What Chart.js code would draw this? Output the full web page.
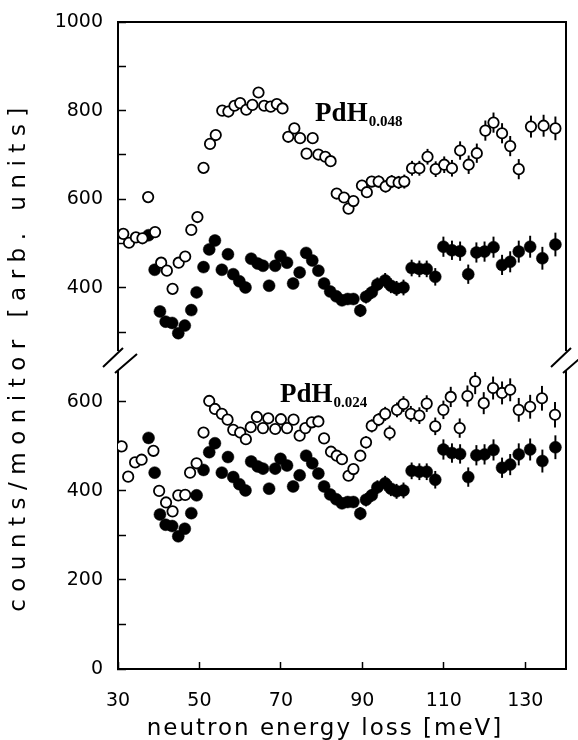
<!DOCTYPE html>
<html>
<head>
<meta charset="utf-8">
<script src="https://cdn.jsdelivr.net/npm/chart.js@4.4.1/dist/chart.umd.min.js"></script>
<style>
    html, body { margin: 0; padding: 0; background: #fff; }
    #wrap { width: 578px; height: 740px; }
</style>
</head>
<body>
<div id="wrap"><canvas id="spectrumChart" width="578" height="740"></canvas></div>
<script>
// values: neutron energy loss (meV) vs counts/monitor

// PdH0.048, open circles, upper panel
const energyH048 = [31.3, 32.7, 34.4, 36.0, 37.4, 39.1, 40.6, 42.0, 43.4, 44.9, 46.5, 48.0, 49.5, 51.0, 52.6, 54.0, 55.6, 57.1, 58.6, 60.0, 61.5, 63.0, 64.5, 65.9, 67.5, 69.0, 70.4, 71.8, 73.3, 74.7, 76.3, 77.8, 79.2, 80.9, 82.2, 83.7, 85.5, 86.6, 87.8, 89.9, 91.1, 92.3, 94.0, 95.7, 97.2, 98.9, 100.3, 102.2, 104.0, 106.0, 108.0, 110.1, 112.0, 114.0, 116.1, 118.1, 120.2, 122.2, 124.3, 126.3, 128.4, 131.4, 134.5, 137.4];
const countsH048 = [522, 502, 514, 512, 605, 526, 457, 439, 398, 457, 471, 531, 560, 671, 725, 745, 800, 798, 811, 817, 802, 813, 841, 811, 809, 815, 805, 741, 760, 738, 703, 738, 701, 696, 686, 613, 604, 579, 596, 631, 616, 640, 640, 629, 640, 638, 640, 670, 670, 696, 668, 678, 670, 710, 678, 704, 755, 773, 749, 720, 668, 764, 766, 760];
const errorsH048 = [8, 8, 8, 8, 8, 8, 8, 8, 8, 8, 8, 8, 8, 8, 8, 8, 8, 8, 8, 8, 8, 8, 8, 8, 8, 8, 8, 8, 8, 8, 8, 8, 8, 8, 8, 8, 8, 8, 8, 12, 12, 12, 13, 13, 14, 14, 15, 16, 16, 17, 17, 18, 18, 20, 20, 21, 22, 22, 22, 22, 22, 24, 24, 26];

// PdH0.024, open circles, lower panel
const energyH024 = [30.9, 32.5, 34.2, 35.8, 38.7, 40.1, 41.8, 43.4, 44.8, 46.5, 47.7, 49.3, 51.0, 52.4, 53.8, 55.5, 56.9, 58.3, 60.0, 61.4, 62.6, 64.1, 65.6, 66.9, 68.6, 70.0, 71.5, 73.1, 74.6, 76.0, 77.6, 79.2, 80.6, 82.3, 83.7, 85.0, 86.6, 87.8, 89.5, 90.9, 92.3, 94.0, 95.6, 96.7, 98.5, 100.1, 101.9, 104.0, 105.8, 107.9, 109.9, 111.7, 113.9, 115.8, 117.7, 119.8, 122.1, 124.3, 126.3, 128.4, 131.2, 134.1, 137.3];
const countsH024 = [500, 432, 464, 470, 490, 400, 374, 354, 390, 391, 441, 462, 531, 602, 584, 573, 560, 537, 531, 516, 543, 566, 541, 563, 539, 561, 541, 560, 524, 541, 554, 556, 518, 488, 479, 471, 434, 449, 479, 509, 546, 560, 573, 530, 582, 595, 573, 569, 596, 545, 582, 611, 541, 613, 646, 597, 631, 620, 627, 582, 589, 608, 571];
const errorsH024 = [8, 8, 8, 8, 8, 8, 8, 8, 8, 8, 8, 8, 8, 8, 8, 8, 8, 8, 8, 8, 8, 8, 8, 8, 8, 8, 8, 8, 8, 8, 8, 8, 8, 8, 8, 8, 10, 10, 12, 13, 14, 14, 15, 16, 16, 17, 17, 18, 18, 19, 20, 22, 21, 23, 28, 24, 25, 25, 25, 26, 26, 27, 28];

// pure Pd reference, filled circles, shown in both panels
const energyPd = [37.5, 39.0, 40.3, 41.7, 43.3, 44.8, 46.4, 48.0, 49.3, 51.0, 52.4, 53.8, 55.5, 57.0, 58.3, 59.8, 61.3, 62.7, 64.3, 65.6, 67.1, 68.6, 69.9, 71.5, 73.0, 74.6, 76.2, 77.7, 79.2, 80.6, 82.1, 83.6, 85.0, 86.4, 87.8, 89.5, 90.9, 92.3, 93.7, 95.6, 97.0, 98.4, 100.1, 102.1, 104.0, 105.8, 107.9, 109.9, 112.0, 114.0, 116.0, 118.0, 120.0, 122.2, 124.3, 126.3, 128.4, 131.2, 134.2, 137.4];
const countsPd = [519, 441, 347, 324, 321, 298, 315, 350, 390, 447, 487, 507, 441, 476, 431, 415, 401, 466, 455, 450, 405, 450, 472, 457, 410, 435, 479, 462, 439, 410, 392, 381, 372, 375, 375, 349, 380, 390, 408, 417, 405, 399, 401, 445, 443, 443, 425, 493, 485, 483, 431, 480, 482, 492, 452, 459, 482, 493, 467, 498];
const errorsPd = [8, 8, 8, 8, 8, 8, 8, 8, 8, 8, 8, 8, 8, 8, 8, 8, 8, 8, 8, 8, 8, 8, 8, 8, 8, 8, 8, 8, 8, 8, 8, 8, 8, 8, 8, 14, 14, 14, 15, 16, 16, 16, 17, 18, 18, 18, 19, 22, 21, 21, 21, 22, 22, 23, 22, 23, 24, 24, 25, 26];

const xTicks = [30, 50, 70, 90, 110, 130];
const yTopTicks = [300, 400, 500, 600, 700, 800, 900, 1000];
const yBottomTicks = [0, 100, 200, 300, 400, 500, 600];
const panelTags = ["0.048", "0.024"];

const BLACK = "#000";
const TICK_FONT = { family: "DejaVu Sans", size: 19 };

// letter spacing / nudge for the two axis titles
const TITLE_STYLE = {
    x: { spacing: "2px", shift: -17 },
    yGap: { spacing: "7.5px", shift: -5 }
};

class SpacedTitleScale extends Chart.LinearScale {
    drawTitle() {
        const style = TITLE_STYLE[this.id];
        if (!style) return super.drawTitle();
        const ctx = this.ctx;
        ctx.save();
        if (this.isHorizontal()) ctx.translate(style.shift, 0);
        else ctx.translate(0, style.shift);
        if ("letterSpacing" in ctx) ctx.letterSpacing = style.spacing;
        super.drawTitle();
        ctx.restore();
    }
}
SpacedTitleScale.id = "spacedLinear";
SpacedTitleScale.defaults = {};
Chart.register(SpacedTitleScale);

const toPoints = (xs, ys) => xs.map((x, i) => ({ x: x, y: ys[i] }));
const toBars = (xs, ys, errs) => xs.map((x, i) => ({ x: x, y: [ys[i] - errs[i], ys[i] + errs[i]] }));

function setTicks(list) {
    return (scale) => { scale.ticks = list.map(value => ({ value })); };
}

// end labels of the y axes should not push the plot area around
function noEndPadding(scale) {
    scale.paddingTop = 0;
    scale.paddingBottom = 0;
}

function yAxis(stackWeight, min, max, tickList) {
    return {
        type: "linear",
        position: "left",
        stack: "panels",
        stackWeight: stackWeight,
        min: min,
        max: max,
        beginAtZero: false,
        afterBuildTicks: setTicks(tickList),
        afterFit: noEndPadding,
        grid: { drawOnChartArea: false, drawTicks: true, tickLength: -8, tickColor: BLACK, tickWidth: 1.5 },
        border: { display: true, color: BLACK, width: 2 },
        ticks: { color: BLACK, font: TICK_FONT, padding: 23, callback: v => (v % 200 === 0 ? v : "") }
    };
}

function rightAxis(stackWeight, min, max, showBorder) {
    return {
        type: "linear",
        position: "right",
        stack: "panelsR",
        stackWeight: stackWeight,
        min: min,
        max: max,
        grid: { drawOnChartArea: false, drawTicks: false },
        border: { display: showBorder, color: BLACK, width: 2 },
        ticks: { display: false }
    };
}

function openSet(label, xs, ys, axis) {
    return {
        label: label,
        xAxisID: "x",
        yAxisID: axis,
        data: toPoints(xs, ys),
        pointRadius: 5.2,
        pointBorderWidth: 1.8,
        pointBorderColor: BLACK,
        pointBackgroundColor: "#fff"
    };
}

function filledSet(label, xs, ys, axis) {
    return {
        label: label,
        xAxisID: "x",
        yAxisID: axis,
        data: toPoints(xs, ys),
        pointRadius: 6,
        pointBorderWidth: 0.5,
        pointBorderColor: BLACK,
        pointBackgroundColor: BLACK
    };
}

function errorSet(xs, ys, errs, axis) {
    return {
        type: "bar",
        xAxisID: "x",
        yAxisID: axis,
        data: toBars(xs, ys, errs),
        backgroundColor: BLACK,
        borderWidth: 0,
        barThickness: 1.3,
        grouped: false
    };
}

// break marks where the y axes are cut
const axisBreaks = {
    id: "axisBreaks",
    afterDraw(chart) {
        const { ctx, chartArea, scales } = chart;
        const yUp = scales.yTop.bottom;
        const yLow = scales.yBottom.top;
        ctx.save();
        ctx.strokeStyle = BLACK;
        ctx.lineWidth = 2;
        [chartArea.left, chartArea.right].forEach(x => {
            ctx.beginPath();
            ctx.moveTo(x - 15, yUp + 17);
            ctx.lineTo(x + 5, yUp - 2);
            ctx.moveTo(x - 3, yLow + 1);
            ctx.lineTo(x + 19, yLow - 18);
            ctx.stroke();
        });
        ctx.restore();
    }
};

function drawTag(ctx, x, y, sub) {
    ctx.fillStyle = BLACK;
    ctx.textAlign = "left";
    ctx.textBaseline = "alphabetic";
    ctx.font = "bold 27px 'Liberation Serif'";
    ctx.fillText("PdH", x, y);
    const w = ctx.measureText("PdH").width;
    ctx.font = "bold 15px 'Liberation Serif'";
    ctx.fillText(sub, x + w + 1, y + 5);
}

const panelLabels = {
    id: "panelLabels",
    afterDatasetsDraw(chart) {
        const { ctx, scales } = chart;
        ctx.save();
        drawTag(ctx, scales.x.getPixelForValue(78.4), scales.yTop.getPixelForValue(777), panelTags[0]);
        drawTag(ctx, scales.x.getPixelForValue(69.8), scales.yBottom.getPixelForValue(600), panelTags[1]);
        ctx.restore();
    }
};

Chart.defaults.font.family = "DejaVu Sans";
Chart.defaults.color = BLACK;

new Chart(document.getElementById("spectrumChart"), {
    type: "scatter",
    data: {
        datasets: [
            openSet("PdH0.048", energyH048, countsH048, "yTop"),
            openSet("PdH0.024", energyH024, countsH024, "yBottom"),
            filledSet("Pd (upper)", energyPd, countsPd, "yTop"),
            filledSet("Pd (lower)", energyPd, countsPd, "yBottom"),
            errorSet(energyH048, countsH048, errorsH048, "yTop"),
            errorSet(energyH024, countsH024, errorsH024, "yBottom"),
            errorSet(energyPd, countsPd, errorsPd, "yTop"),
            errorSet(energyPd, countsPd, errorsPd, "yBottom")
        ]
    },
    options: {
        responsive: false,
        animation: false,
        events: [],
        layout: { padding: { left: 0, right: 12, top: 22, bottom: 0 } },
        plugins: { legend: { display: false }, tooltip: { enabled: false } },
        scales: {
            x: {
                type: "spacedLinear",
                position: "bottom",
                min: 30,
                max: 140,
                offset: false,
                afterBuildTicks: setTicks(xTicks),
                afterFit: (scale) => {
                    scale.height = 71;
                    scale.paddingLeft = 0;
                    scale.paddingRight = 0;
                },
                grid: { offset: false, drawOnChartArea: false, drawTicks: true, tickLength: -7, tickColor: BLACK, tickWidth: 1.5 },
                border: { display: true, color: BLACK, width: 2 },
                ticks: { color: BLACK, font: TICK_FONT, padding: 28, maxRotation: 0, autoSkip: false },
                title: {
                    display: true,
                    text: "neutron energy loss [meV]",
                    color: BLACK,
                    font: { family: "DejaVu Sans", size: 23 },
                    padding: { top: 2, bottom: -3 }
                }
            },
            xTop: {
                type: "linear",
                position: "top",
                min: 30,
                max: 140,
                grid: { drawOnChartArea: false, drawTicks: false },
                border: { display: true, color: BLACK, width: 2 },
                ticks: { display: false }
            },
            // left stack: last one listed ends up on top
            yBottom: yAxis(297, 0, 667, yBottomTicks),
            yGap: {
                type: "spacedLinear",
                position: "left",
                stack: "panels",
                stackWeight: 22,
                min: 0,
                max: 1,
                afterFit: (scale) => { scale.width = 118; },
                grid: { display: false, drawTicks: false },
                border: { display: false },
                ticks: { display: false },
                title: {
                    display: true,
                    text: "counts/monitor [arb. units]",
                    color: BLACK,
                    font: { family: "DejaVu Sans", size: 23 },
                    padding: { top: 5, bottom: 85.4 }
                }
            },
            yTop: yAxis(328, 260, 1000, yTopTicks),
            yTopR: rightAxis(328, 260, 1000, true),
            yGapR: rightAxis(22, 0, 1, false),
            yBottomR: rightAxis(297, 0, 667, true)
        }
    },
    plugins: [axisBreaks, panelLabels]
});
</script>
</body>
</html>
